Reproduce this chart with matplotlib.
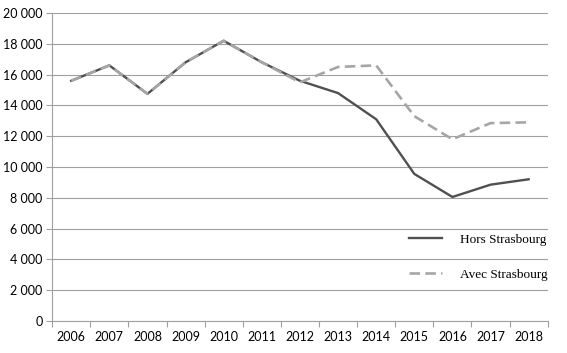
import matplotlib.pyplot as plt
from matplotlib.ticker import FuncFormatter, FixedLocator

years = ['2006', '2007', '2008', '2009', '2010', '2011', '2012',
         '2013', '2014', '2015', '2016', '2017', '2018']
hors_strasbourg = [15600, 16600, 14750, 16800, 18200, 16800, 15600,
                   14800, 13100, 9550, 8050, 8850, 9200]
avec_strasbourg = [15600, 16600, 14750, 16800, 18200, 16800, 15500,
                   16500, 16600, 13300, 11800, 12850, 12900]

fig = plt.figure(figsize=(5.67, 3.53), dpi=100)
ax = fig.add_axes([0.092, 0.091, 0.874, 0.872])

x = list(range(len(years)))
ax.plot(x, hors_strasbourg, color='#505050', lw=1.7, label='Hors Strasbourg', zorder=3)
ax.plot(x, avec_strasbourg, color='#a6a6a6', lw=1.9, dashes=(4, 2),
        label='Avec Strasbourg', zorder=4)

ax.set_xlim(-0.5, len(years) - 0.5)
ax.set_ylim(0, 20000)
ax.set_yticks(range(0, 20001, 2000))
ax.yaxis.set_major_formatter(FuncFormatter(lambda v, p: f'{int(v):,}'.replace(',', ' ')))
ax.grid(axis='y', color='#a0a0a0', lw=0.8)
ax.set_axisbelow(True)

# ticks between categories, labels centred
ax.xaxis.set_major_locator(FixedLocator([i - 0.5 for i in range(len(years) + 1)]))
ax.xaxis.set_minor_locator(FixedLocator(x))
ax.set_xticklabels([], minor=False)
ax.set_xticklabels(years, minor=True)
ax.tick_params(axis='x', which='major', length=4, color='#a0a0a0')
ax.tick_params(axis='x', which='minor', length=0, pad=7)
ax.tick_params(axis='y', length=4, color='#a0a0a0', pad=3)

for lab in ax.get_xticklabels(minor=True) + ax.get_yticklabels():
    lab.set_family(['Lato', 'DejaVu Sans'])
    lab.set_fontsize(9)
    lab.set_color('#000000')

for s in ['top', 'right']:
    ax.spines[s].set_visible(False)
for s in ['left', 'bottom']:
    ax.spines[s].set_color('#a0a0a0')
    ax.spines[s].set_linewidth(0.8)
ax.spines['bottom'].set_zorder(5)

ax.legend(loc='lower right', bbox_to_anchor=(1.0, 0.13), frameon=False,
          borderaxespad=0, borderpad=0,
          handlelength=2.5, handletextpad=1.35, labelspacing=1.75,
          prop={'family': 'Liberation Serif', 'size': 9.5})

fig.savefig('out.png', dpi=100)
